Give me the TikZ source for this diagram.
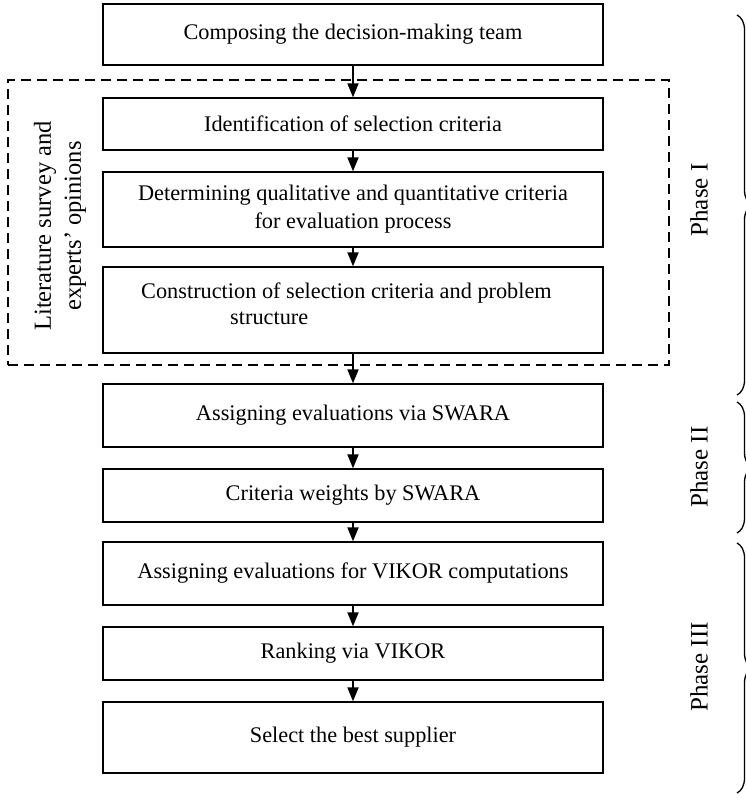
\documentclass[tikz,border=0pt]{standalone}
\usepackage{fontspec}
\setmainfont{Liberation Serif}
\usetikzlibrary{arrows.meta,decorations.pathreplacing}
\begin{document}
\begin{tikzpicture}[x=1pt,y=-1pt,
  stepbox/.style={draw, line width=1.3pt, minimum width=500pt, align=center,
    font=\fontsize{22.3}{28}\selectfont, inner sep=0pt},
  dashbox/.style={draw, line width=1.3pt, dash pattern=on 10pt off 6pt, inner sep=0pt},
  arr/.style={line width=1.8pt, -{Triangle[width=11pt,length=14pt]}},
  lbl/.style={font=\fontsize{24.5}{30}\selectfont, align=center, inner sep=0pt},
  phlbl/.style={font=\fontsize{25}{30}\selectfont, inner sep=0pt},
  brc/.style={line width=1.3pt, decorate, decoration={brace, amplitude=15pt}}]
\useasboundingbox (0,0) rectangle (745,800);
\node[dashbox, minimum width=661pt, minimum height=285pt] (lit) at (338.5,222.5) {};
\node[lbl, rotate=90] (litlbl) at (60,226) {Literature survey and\\experts’ opinions};
\node[stepbox, minimum height=61pt] (b1) at (353,34.5) {Composing the decision-making team};
\node[stepbox, minimum height=52pt] (b2) at (353,124) {Identification of selection criteria};
\node[stepbox, minimum height=75pt] (b3) at (353,209.5) {Determining qualitative and quantitative criteria\\for evaluation process};
\node[stepbox, minimum height=86pt] (b4) at (353,310) {};
\node[font=\fontsize{22.3}{28}\selectfont, inner sep=0pt, anchor=north west] (b4t) at (141,283) {Construction of selection criteria and problem};
\node[font=\fontsize{22.3}{28}\selectfont, inner sep=0pt, anchor=north west] (b4s) at (230,312) {structure};
\node[stepbox, minimum height=63pt] (b5) at (353,415.5) {Assigning evaluations via SWARA};
\node[stepbox, minimum height=53pt] (b6) at (353,495.5) {Criteria weights by SWARA};
\node[stepbox, minimum height=63pt] (b7) at (353,573.5) {Assigning evaluations for VIKOR computations};
\node[stepbox, minimum height=53pt] (b8) at (353,653.5) {Ranking via VIKOR};
\node[stepbox, minimum height=71pt] (b9) at (353,737.5) {Select the best supplier};
\foreach \a/\b in {b1/b2,b2/b3,b3/b4,b4/b5,b5/b6,b6/b7,b7/b8,b8/b9}
  \draw[arr] (\a.south) -- (\b.north);
\node[phlbl, rotate=90] (p1) at (699,200) {Phase I};
\node[phlbl, rotate=90] (p2) at (699,467) {Phase II};
\node[phlbl, rotate=90] (p3) at (699,667) {Phase III};
\draw[brc] (737,15) -- (737,395);
\draw[brc] (737,402) -- (737,533);
\draw[brc] (737,543) -- (737,793);
\end{tikzpicture}
\end{document}
